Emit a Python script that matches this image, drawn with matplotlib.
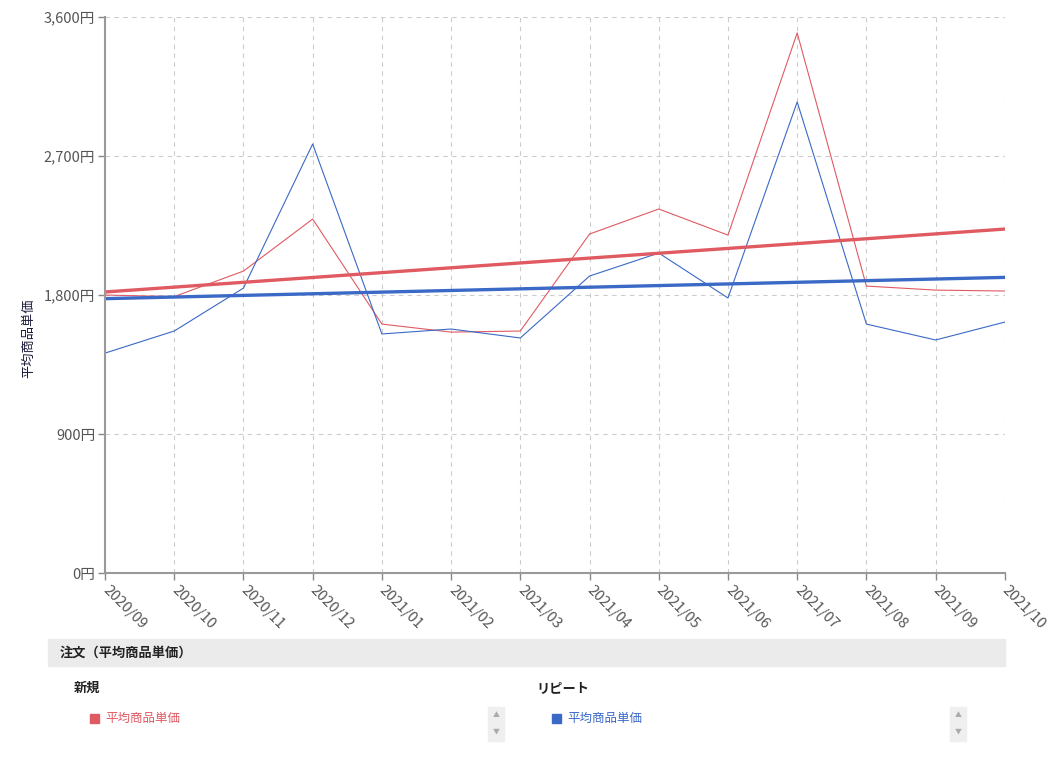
import numpy as np
import matplotlib.pyplot as plt
from matplotlib.patches import Rectangle

plt.rcParams['font.family'] = ['Noto Sans CJK JP', 'DejaVu Sans']

months = ['2020/09', '2020/10', '2020/11', '2020/12', '2021/01', '2021/02', '2021/03',
          '2021/04', '2021/05', '2021/06', '2021/07', '2021/08', '2021/09', '2021/10']
# 新規
new_avg = [1800, 1790, 1955, 2292, 1612, 1560, 1567, 2195, 2357, 2188, 3497, 1858, 1832, 1826]
# リピート
repeat_avg = [1424, 1567, 1845, 2778, 1548, 1580, 1522, 1923, 2072, 1781, 3050, 1612, 1509, 1625]
yticks = [0, 900, 1800, 2700, 3600]

RED = '#e05a62'
BLUE = '#3b69c6'

fig = plt.figure(figsize=(10.5, 7.57), dpi=100)
ax = fig.add_axes([0.1, 0.243, 0.857, 0.7345])

x = np.arange(len(months))
ax.plot(x, new_avg, color=RED, lw=0.8)
ax.plot(x, repeat_avg, color=BLUE, lw=0.8)
# trend lines (least squares)
for vals, c in [(new_avg, RED), (repeat_avg, BLUE)]:
    k, b = np.polyfit(x, vals, 1)
    ax.plot(x, k*x+b, color=c, lw=2.4)

ax.set_xlim(0, len(months)-1)
ax.set_ylim(0, 3600)
ax.set_yticks(yticks)
ax.set_yticklabels([f'{v:,}円' for v in yticks])
ax.set_xticks(x)
ax.set_xticklabels(months, rotation=-45, ha='left', va='center', rotation_mode='anchor')
ax.tick_params(colors='#888888', labelcolor='#555555', labelsize=10.5, length=5, width=1)
ax.tick_params(axis='x', pad=6)
ax.tick_params(axis='y', pad=2)
ax.grid(True, ls=(0, (4, 4)), color='#cccccc', lw=0.8)
for s in ['top', 'right']:
    ax.spines[s].set_visible(False)
for s in ['left', 'bottom']:
    ax.spines[s].set_color('#999999')
    ax.spines[s].set_linewidth(1.5)
ax.set_ylabel('平均商品単価', fontsize=9.5, color='#1c1c3c')
ax.yaxis.set_label_coords(-0.078, 0.423)

# legend panel below
def px(xp, yp):
    return xp/1050, 1-yp/757

fig.patches.append(Rectangle(px(48, 666), 957/1050, 27/757, transform=fig.transFigure,
                             color='#ebebeb', zorder=0))
fig.text(*px(60, 653), '注文（平均商品単価）', fontsize=9.5, weight='bold', color='#222222', va='center')
fig.text(*px(74, 688), '新規', fontsize=9.5, weight='bold', color='#222222', va='center')
fig.text(*px(536, 688), 'リピート', fontsize=9.5, weight='bold', color='#222222', va='center')
for xs, c in [(90, RED), (552, BLUE)]:
    fig.patches.append(Rectangle(px(xs, 723), 9/1050, 9/757, transform=fig.transFigure, color=c))
    fig.text(*px(xs+15, 718), '平均商品単価', fontsize=9, color=c, va='center')
for xs in [488, 950]:
    fig.patches.append(Rectangle(px(xs, 741), 16/1050, 34/757, transform=fig.transFigure,
                                 color='#efefef'))
    fig.text(*px(xs+8, 715), '▲', fontsize=5, color='#aaaaaa', ha='center', va='center')
    fig.text(*px(xs+8, 732), '▼', fontsize=5, color='#aaaaaa', ha='center', va='center')

fig.savefig('out.png', dpi=100)
